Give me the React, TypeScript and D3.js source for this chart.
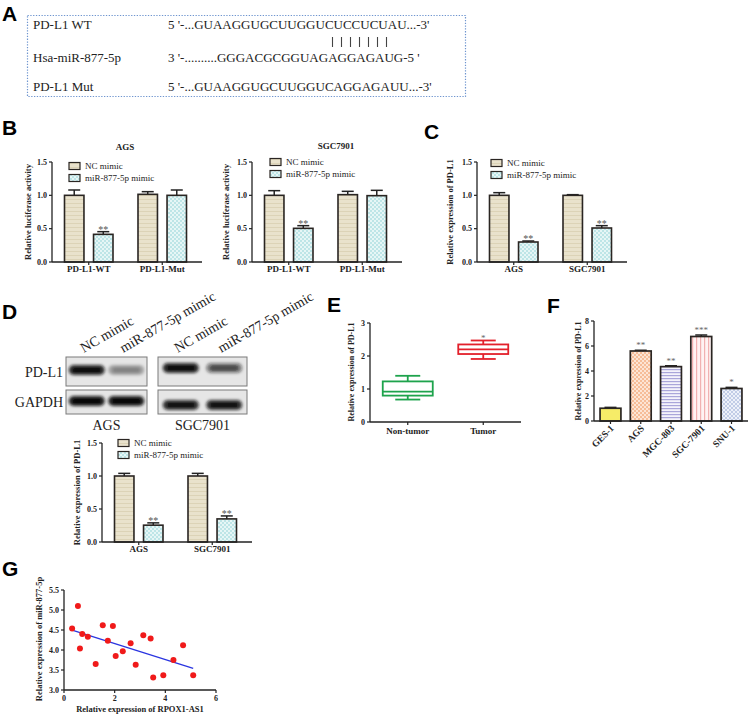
import React from 'react';
import * as d3 from 'd3';

const SERIF = 'Liberation Serif, Tinos, Times New Roman, Times, DejaVu Serif, serif';
const SANS = 'Liberation Sans, Arimo, Arial, sans-serif';

// ---------- Panel A ----------
const aLabels = ['PD-L1 WT', 'Hsa-miR-877-5p', 'PD-L1 Mut'];
const aSeqs = [
  "5 '-...GUAAGGUGCUUGGUCUCCUCUAU...-3'",
  "3 '-..........GGGACGCGGUAGAGGAGAUG-5 '",
  "5 '-...GUAAGGUGCUUGGUCAGGAGAUU...-3'",
];
const aPairs = [0, 1, 2, 3, 4, 5, 6];

// ---------- shared ----------
const seriesNames = ['NC mimic', 'miR-877-5p mimic'];
const barTicks = [0, 0.5, 1.0, 1.5];

// ---------- Panel B ----------
const bGroups = ['PD-L1-WT', 'PD-L1-Mut'];
const bAgsNC = [1.0, 1.015];
const bAgsNCErr = [0.08, 0.04];
const bAgsMi = [0.415, 1.0];
const bAgsMiErr = [0.04, 0.08];
const bAgsStars = ['**', ''];
const bSgcNC = [1.0, 1.01];
const bSgcNCErr = [0.07, 0.05];
const bSgcMi = [0.505, 0.995];
const bSgcMiErr = [0.04, 0.08];
const bSgcStars = ['**', ''];

// ---------- Panel C ----------
const cGroups = ['AGS', 'SGC7901'];
const cNC = [1.0, 1.0];
const cNCErr = [0.04, 0.01];
const cMi = [0.3, 0.51];
const cMiErr = [0.015, 0.035];
const cStars = ['**', '**'];

// ---------- Panel D ----------
const dBlotRows = ['PD-L1', 'GAPDH'];
const dBlotCells = ['AGS', 'SGC7901'];
const dPdl1Intensity = [0.95, 0.32, 0.95, 0.55];
const dGapdhIntensity = [1.0, 1.0, 0.9, 0.9];
const dGroups = ['AGS', 'SGC7901'];
const dNC = [1.0, 1.0];
const dNCErr = [0.04, 0.04];
const dMi = [0.255, 0.35];
const dMiErr = [0.035, 0.045];
const dStars = ['**', '**'];

// ---------- Panel E ----------
const eGroups = ['Non-tumor', 'Tumor'];
const eMin = [0.68, 1.91];
const eQ1 = [0.8, 2.06];
const eMed = [0.92, 2.2];
const eQ3 = [1.23, 2.35];
const eMax = [1.4, 2.47];
const eColors = ['#1ea34c', '#e3202b'];
const eStars = ['', '*'];
const eTicks = [0, 1, 2, 3];

// ---------- Panel F ----------
const fGroups = ['GES-1', 'AGS', 'MGC-803', 'SGC-7901', 'SNU-1'];
const fValues = [1.02, 5.6, 4.35, 6.76, 2.6];
const fErr = [0.07, 0.06, 0.07, 0.12, 0.09];
const fStars = ['', '**', '**', '***', '*'];
const fTicks = [0, 2, 4, 6, 8];

// ---------- Panel G ----------
const gX = [0.32, 0.55, 0.63, 0.72, 0.94, 1.25, 1.53, 1.73, 1.93, 2.04, 2.32, 2.63, 2.83, 3.13, 3.42, 3.52, 3.92, 4.32, 4.7, 5.1];
const gY = [4.54, 5.1, 4.04, 4.4, 4.33, 3.65, 4.62, 4.23, 4.6, 3.85, 3.97, 4.17, 3.63, 4.37, 4.29, 3.31, 3.37, 3.75, 4.12, 3.37];
const gXTicks = [0, 2, 4, 6];
const gYTicks = [3.0, 3.5, 4.0, 4.5, 5.0, 5.5];

const INK = '#222';

function YAxis({ x, scale, ticks, fmt, fontSize = 8 }: any) {
  const [r0, r1] = scale.range();
  return (
    <g>
      <line x1={x} x2={x} y1={r0} y2={r1} stroke={INK} strokeWidth={1.3} />
      {ticks.map((t: number) => (
        <g key={t}>
          <line x1={x - 3} x2={x} y1={scale(t)} y2={scale(t)} stroke={INK} strokeWidth={1.2} />
          <text x={x - 5} y={scale(t)} dy="0.33em" textAnchor="end" fontSize={fontSize} fontWeight="bold" style={{ fontFamily: SERIF }} fill={INK}>
            {fmt(t)}
          </text>
        </g>
      ))}
    </g>
  );
}

function YTitle({ x, y, text, size = 8.5 }: any) {
  return (
    <text transform={`translate(${x},${y}) rotate(-90)`} textAnchor="middle" fontSize={size} fontWeight="bold" style={{ fontFamily: SERIF }} fill={INK}>
      {text}
    </text>
  );
}

function PanelLetter({ x, y, t }: any) {
  return (
    <text x={x} y={y} fontSize={21} fontWeight="bold" style={{ fontFamily: SANS }} fill="#000">
      {t}
    </text>
  );
}

function GroupedBar(p: any) {
  const y = d3.scaleLinear().domain([0, 1.5]).range([p.yBase, p.yTop]);
  const x = d3.scalePoint<string>().domain(p.groups).range([p.x0, p.x0 + 147]).padding(0.5);
  const inner = d3.scaleBand<number>().domain([0, 1]).range([-24.25, 24.25]).paddingInner(0.33);
  const bw = inner.bandwidth();
  const vals = [p.nc, p.mi];
  const errs = [p.ncErr, p.miErr];
  const fills = ['url(#patNC)', 'url(#patMi)'];
  const fmt = d3.format('.1f');
  return (
    <g>
      {p.title && (
        <text x={p.titleX} y={p.titleY} textAnchor="middle" fontSize={9} fontWeight="bold" style={{ fontFamily: SERIF }} fill={INK}>
          {p.title}
        </text>
      )}
      {p.groups.map((g: string, i: number) =>
        [0, 1].map((s) => {
          const v = vals[s][i];
          const e = errs[s][i];
          const bx = (x(g) as number) + (inner(s) as number);
          const cx = bx + bw / 2;
          return (
            <g key={g + s}>
              <line x1={cx} x2={cx} y1={y(v)} y2={y(v + e)} stroke={INK} strokeWidth={1.5} />
              <line x1={cx - 6} x2={cx + 6} y1={y(v + e)} y2={y(v + e)} stroke={INK} strokeWidth={1.5} />
              <rect x={bx} y={y(v)} width={bw} height={y(0) - y(v)} fill={fills[s]} stroke="#2a2522" strokeWidth={1.6} />
            </g>
          );
        })
      )}
      {p.groups.map((g: string, i: number) => {
        const v = p.mi[i];
        const e = p.miErr[i];
        const cx = (x(g) as number) + (inner(1) as number) + bw / 2;
        return p.stars[i] ? (
          <text key={g} x={cx} y={y(v + e) + 1} textAnchor="middle" fontSize={10} style={{ fontFamily: SERIF }} fill="#555">
            {p.stars[i]}
          </text>
        ) : null;
      })}
      <YAxis x={p.x0} scale={y} ticks={barTicks} fmt={fmt} />
      <line x1={p.x0} x2={p.x0 + 150} y1={y(0)} y2={y(0)} stroke={INK} strokeWidth={1.3} />
      {p.groups.map((g: string) => (
        <g key={g}>
          <line x1={x(g)} x2={x(g)} y1={y(0)} y2={y(0) + 3} stroke={INK} strokeWidth={1.2} />
          <text x={x(g)} y={y(0) + 10} textAnchor="middle" fontSize={9} fontWeight="bold" style={{ fontFamily: SERIF }} fill={INK}>
            {g}
          </text>
        </g>
      ))}
      {seriesNames.map((n, i) => (
        <g key={n}>
          <rect x={p.legendX} y={p.legendY + i * 12 - 3.5} width={11} height={7} fill={fills[i]} stroke="#2a2522" strokeWidth={1.2} />
          <text x={p.legendX + 16} y={p.legendY + i * 12 + 3} fontSize={9} style={{ fontFamily: SERIF }} fill={INK}>
            {n}
          </text>
        </g>
      ))}
      <YTitle x={p.yTitleX} y={(p.yBase + p.yTop) / 2} text={p.yTitle} />
    </g>
  );
}

function PanelA() {
  return (
    <g>
      <PanelLetter x={2} y={21} t="A" />
      <rect x={27.5} y={15.5} width={438} height={81} fill="none" stroke="#6f95cf" strokeWidth={1.2} strokeDasharray="1.3,1.5" />
      {aLabels.map((l, i) => (
        <g key={l}>
          <text x={33} y={[29, 62, 91][i]} fontSize={13} style={{ fontFamily: SERIF }} fill={INK}>
            {l}
          </text>
          <text x={168} y={[29, 62, 91][i]} fontSize={13} style={{ fontFamily: SERIF }} fill={INK}>
            {aSeqs[i]}
          </text>
        </g>
      ))}
      {aPairs.map((k) => (
        <line key={k} x1={332.5 + k * 9} x2={332.5 + k * 9} y1={37} y2={47} stroke="#444" strokeWidth={1.1} />
      ))}
    </g>
  );
}

function Blot() {
  const boxes = [
    [66, 147],
    [158, 247],
  ];
  const rowsY = [
    [357, 386],
    [390, 414],
  ];
  const bandY = [
    [370, 368],
    [401, 405],
  ];
  const intens = [dPdl1Intensity, dGapdhIntensity];
  const laneLabels = [seriesNames[0], seriesNames[1], seriesNames[0], seriesNames[1]];
  const lanes = d3.scaleBand<number>().domain([0, 1]).paddingInner(0.05).paddingOuter(0.05);
  const centers: number[] = [];
  boxes.forEach((b) => {
    lanes.range([b[0], b[1]] as [number, number]);
    [0, 1].forEach((l) => centers.push((lanes(l) as number) + lanes.bandwidth() / 2));
  });
  return (
    <g>
      <PanelLetter x={2} y={319} t="D" />
      {laneLabels.map((l, i) => (
        <text key={i} transform={`translate(${centers[i] - 3},353) rotate(-30)`} fontSize={14} style={{ fontFamily: SERIF }} fill={INK}>
          {l}
        </text>
      ))}
      {dBlotRows.map((r, ri) => (
        <g key={r}>
          <text x={63} y={(rowsY[ri][0] + rowsY[ri][1]) / 2 + 5} textAnchor="end" fontSize={14} style={{ fontFamily: SERIF }} fill={INK}>
            {r}
          </text>
          {boxes.map((b, bi) => (
            <g key={bi}>
              <rect x={b[0]} y={rowsY[ri][0]} width={b[1] - b[0]} height={rowsY[ri][1] - rowsY[ri][0]} fill="#e6e6e6" stroke="#7a7a7a" strokeWidth={1} />
              {[0, 1].map((l) => {
                const li = bi * 2 + l;
                const cx = centers[li];
                const a = intens[ri][li];
                return (
                  <g key={l} filter="url(#blotBlur)">
                    <rect x={cx - 18} y={bandY[ri][bi] - 5} width={36} height={10} rx={5} fill="#111" opacity={a * 0.9} />
                    <rect x={cx - 14} y={bandY[ri][bi] - 2.5} width={28} height={5} rx={2.5} fill="#000" opacity={a * 0.7} />
                  </g>
                );
              })}
            </g>
          ))}
        </g>
      ))}
      {dBlotCells.map((c, i) => (
        <text key={c} x={(boxes[i][0] + boxes[i][1]) / 2} y={430} textAnchor="middle" fontSize={14} style={{ fontFamily: SERIF }} fill={INK}>
          {c}
        </text>
      ))}
    </g>
  );
}

function PanelE() {
  const y = d3.scaleLinear().domain([0, 3]).range([422, 323]);
  const x = d3.scalePoint<string>().domain(eGroups).range([370, 521]).padding(0.5);
  return (
    <g>
      <PanelLetter x={327} y={312} t="E" />
      {eGroups.map((g, i) => {
        const cx = x(g) as number;
        const c = eColors[i];
        return (
          <g key={g} stroke={c} strokeWidth={1.8} fill="none">
            <line x1={cx} x2={cx} y1={y(eMax[i])} y2={y(eQ3[i])} />
            <line x1={cx} x2={cx} y1={y(eQ1[i])} y2={y(eMin[i])} />
            <line x1={cx - 12.5} x2={cx + 12.5} y1={y(eMax[i])} y2={y(eMax[i])} />
            <line x1={cx - 12.5} x2={cx + 12.5} y1={y(eMin[i])} y2={y(eMin[i])} />
            <rect x={cx - 25} y={y(eQ3[i])} width={50} height={y(eQ1[i]) - y(eQ3[i])} />
            <line x1={cx - 25} x2={cx + 25} y1={y(eMed[i])} y2={y(eMed[i])} />
            {eStars[i] && (
              <text x={cx} y={y(eMax[i]) + 1} textAnchor="middle" fontSize={9} style={{ fontFamily: SERIF }} fill="#666" stroke="none">
                {eStars[i]}
              </text>
            )}
          </g>
        );
      })}
      <YAxis x={370} scale={y} ticks={eTicks} fmt={d3.format('d')} />
      <line x1={370} x2={521} y1={y(0)} y2={y(0)} stroke={INK} strokeWidth={1.3} />
      {eGroups.map((g) => (
        <g key={g}>
          <line x1={x(g)} x2={x(g)} y1={y(0)} y2={y(0) + 3} stroke={INK} strokeWidth={1.2} />
          <text x={x(g)} y={y(0) + 12} textAnchor="middle" fontSize={9} fontWeight="bold" style={{ fontFamily: SERIF }} fill={INK}>
            {g}
          </text>
        </g>
      ))}
      <YTitle x={354} y={372} text="Relative expression of PD-L1" size={8} />
    </g>
  );
}

function PanelF() {
  const y = d3.scaleLinear().domain([0, 8]).range([421, 321]);
  const x = d3.scaleBand<string>().domain(fGroups).range([594, 748]).paddingInner(0.31).paddingOuter(0.2);
  const bw = x.bandwidth();
  const fills = ['url(#patGES)', 'url(#patAGS)', 'url(#patMGC)', 'url(#patSGC)', 'url(#patSNU)'];
  return (
    <g>
      <PanelLetter x={547} y={313} t="F" />
      {fGroups.map((g, i) => {
        const bx = x(g) as number;
        const cx = bx + bw / 2;
        const v = fValues[i];
        const e = fErr[i];
        return (
          <g key={g}>
            <line x1={cx} x2={cx} y1={y(v)} y2={y(v + e)} stroke={INK} strokeWidth={1.5} />
            <line x1={cx - 6} x2={cx + 6} y1={y(v + e)} y2={y(v + e)} stroke={INK} strokeWidth={1.5} />
            <rect x={bx} y={y(v)} width={bw} height={y(0) - y(v)} fill={fills[i]} stroke="#2a2522" strokeWidth={1.7} />
            {fStars[i] && (
              <text x={cx} y={y(v + e) - 2} textAnchor="middle" fontSize={9} style={{ fontFamily: SERIF }} fill="#666">
                {fStars[i]}
              </text>
            )}
          </g>
        );
      })}
      <YAxis x={594} scale={y} ticks={fTicks} fmt={d3.format('d')} />
      <line x1={594} x2={748} y1={y(0)} y2={y(0)} stroke={INK} strokeWidth={1.3} />
      {fGroups.map((g) => {
        const cx = (x(g) as number) + bw / 2;
        return (
          <g key={g}>
            <line x1={cx} x2={cx} y1={y(0)} y2={y(0) + 3} stroke={INK} strokeWidth={1.2} />
            <text transform={`translate(${cx + 4},${y(0) + 8}) rotate(-45)`} textAnchor="end" fontSize={9.5} fontWeight="bold" style={{ fontFamily: SERIF }} fill={INK}>
              {g}
            </text>
          </g>
        );
      })}
      <YTitle x={581} y={371} text="Relative expression of PD-L1" size={8} />
    </g>
  );
}

function PanelG() {
  const x = d3.scaleLinear().domain([0, 6]).range([64, 216]);
  const y = d3.scaleLinear().domain([3, 5.5]).range([690, 590]);
  const mx = d3.mean(gX) as number;
  const my = d3.mean(gY) as number;
  const sxy = d3.sum(gX.map((v, i) => (v - mx) * (gY[i] - my)));
  const sxx = d3.sum(gX.map((v) => (v - mx) * (v - mx)));
  const slope = sxy / sxx;
  const icpt = my - slope * mx;
  const [xa, xb] = d3.extent(gX) as [number, number];
  const line = d3.line<number>().x((d) => x(d)).y((d) => y(icpt + slope * d));
  return (
    <g>
      <PanelLetter x={2} y={576} t="G" />
      <path d={line([xa, xb]) as string} stroke="#2a35e0" strokeWidth={1.3} fill="none" />
      {gX.map((v, i) => (
        <circle key={i} cx={x(v)} cy={y(gY[i])} r={3} fill="#f01a1a" />
      ))}
      <YAxis x={64} scale={y} ticks={gYTicks} fmt={d3.format('.1f')} />
      <line x1={64} x2={216} y1={690} y2={690} stroke={INK} strokeWidth={1.3} />
      {gXTicks.map((t) => (
        <g key={t}>
          <line x1={x(t)} x2={x(t)} y1={690} y2={693} stroke={INK} strokeWidth={1.2} />
          <text x={x(t)} y={701} textAnchor="middle" fontSize={8} fontWeight="bold" style={{ fontFamily: SERIF }} fill={INK}>
            {t}
          </text>
        </g>
      ))}
      <text x={140} y={712} textAnchor="middle" fontSize={8.5} fontWeight="bold" style={{ fontFamily: SERIF }} fill={INK}>
        Relative expression of RPOX1-AS1
      </text>
      <YTitle x={42} y={639} text="Relative expression of miR-877-5p" size={8.5} />
    </g>
  );
}

function Defs() {
  return (
    <defs>
      <pattern id="patNC" width="4" height="4" patternUnits="userSpaceOnUse">
        <rect width="4" height="4" fill="#e9e2cc" />
        <rect y="3" width="4" height="1" fill="#dcd3b7" />
      </pattern>
      <pattern id="patMi" width="4" height="4" patternUnits="userSpaceOnUse">
        <rect width="4" height="4" fill="#e6f6f6" />
        <rect width="2" height="2" fill="#bde5e7" />
        <rect x="2" y="2" width="2" height="2" fill="#bde5e7" />
      </pattern>
      <pattern id="patGES" width="4" height="4" patternUnits="userSpaceOnUse">
        <rect width="4" height="4" fill="#f6ec68" />
      </pattern>
      <pattern id="patAGS" width="4" height="4" patternUnits="userSpaceOnUse">
        <rect width="4" height="4" fill="#fde5d4" />
        <rect width="2" height="2" fill="#f6bd98" />
        <rect x="2" y="2" width="2" height="2" fill="#f6bd98" />
      </pattern>
      <pattern id="patMGC" width="4" height="3" patternUnits="userSpaceOnUse">
        <rect width="4" height="3" fill="#f4f3fb" />
        <rect width="4" height="1.2" fill="#aaa6da" />
      </pattern>
      <pattern id="patSGC" width="4" height="4" patternUnits="userSpaceOnUse">
        <rect width="4" height="4" fill="#fff3f3" />
        <rect width="1.2" height="4" fill="#f1b1b1" />
      </pattern>
      <pattern id="patSNU" width="4" height="4" patternUnits="userSpaceOnUse">
        <rect width="4" height="4" fill="#edf1f9" />
        <path d="M0,4 L4,0 M0,0 L4,4" stroke="#b6c3e1" strokeWidth="0.8" />
      </pattern>
      <filter id="blotBlur" x="-40%" y="-100%" width="180%" height="300%">
        <feGaussianBlur stdDeviation="1.8" />
      </filter>
    </defs>
  );
}

export default function App() {
  return (
    <svg width={750} height={716} viewBox="0 0 750 716" style={{ position: 'absolute', left: 0, top: 0, background: '#fff' }}>
      <Defs />
      <rect width={750} height={716} fill="#fff" />
      <PanelA />
      <PanelLetter x={2} y={135} t="B" />
      <GroupedBar
        x0={52} yBase={262} yTop={162} groups={bGroups}
        nc={bAgsNC} ncErr={bAgsNCErr} mi={bAgsMi} miErr={bAgsMiErr} stars={bAgsStars}
        legendX={69} legendY={166} title="AGS" titleX={125} titleY={150}
        yTitle="Relative luciferase activity" yTitleX={31}
      />
      <GroupedBar
        x0={252} yBase={262} yTop={162} groups={bGroups}
        nc={bSgcNC} ncErr={bSgcNCErr} mi={bSgcMi} miErr={bSgcMiErr} stars={bSgcStars}
        legendX={270} legendY={162} title="SGC7901" titleX={336} titleY={149}
        yTitle="Relative luciferase activity" yTitleX={229}
      />
      <PanelLetter x={424} y={139} t="C" />
      <GroupedBar
        x0={477} yBase={262} yTop={162} groups={cGroups}
        nc={cNC} ncErr={cNCErr} mi={cMi} miErr={cMiErr} stars={cStars}
        legendX={491} legendY={163}
        yTitle="Relative expression of PD-L1" yTitleX={453}
      />
      <Blot />
      <GroupedBar
        x0={102} yBase={542} yTop={443} groups={dGroups}
        nc={dNC} ncErr={dNCErr} mi={dMi} miErr={dMiErr} stars={dStars}
        legendX={118} legendY={443}
        yTitle="Relative expression of PD-L1" yTitleX={80}
      />
      <PanelE />
      <PanelF />
      <PanelG />
    </svg>
  );
}
